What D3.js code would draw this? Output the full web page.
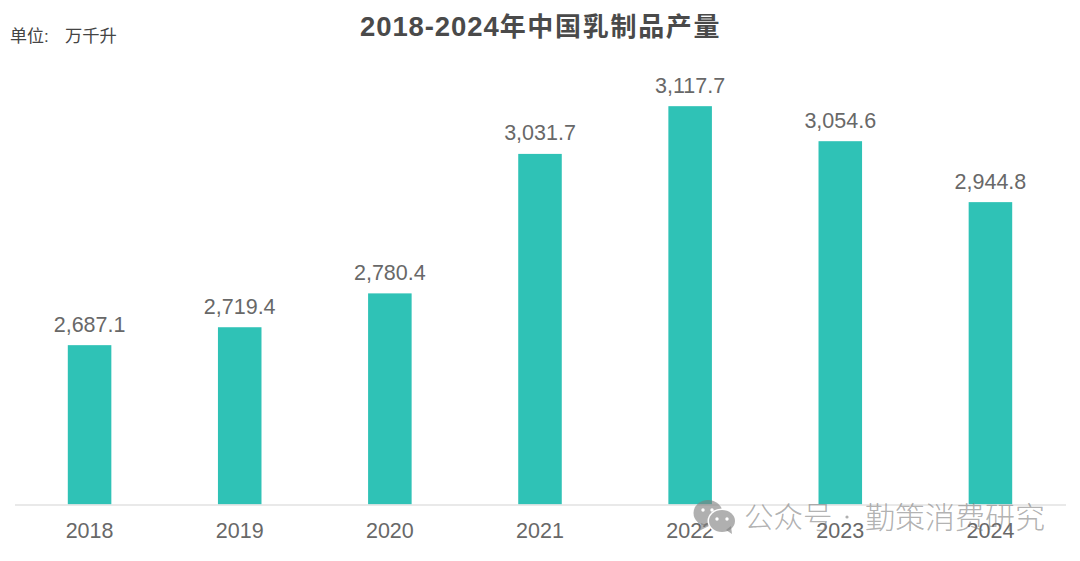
<!DOCTYPE html>
<html>
<head>
<meta charset="utf-8">
<script src="https://cdn.jsdelivr.net/npm/d3@7"></script>
<style>
html,body{margin:0;padding:0;background:#fff;overflow:hidden}
svg{display:block}
text{font-family:"Liberation Sans","Noto Sans CJK SC",sans-serif}
</style>
</head>
<body>
<svg id="chart" width="1080" height="561"></svg>
<script>
// Annual dairy output, in units of 10,000 kilolitres
const years = ["2018","2019","2020","2021","2022","2023","2024"];
const output = [2687.1,2719.4,2780.4,3031.7,3117.7,3054.6,2944.8];
const axisRange = [2400,3200];
const titleRange = "2018-2024";
const titleName = "年中国乳制品产量";
const unitLabel = "单位:";
const unitText = "万千升";
const markAccount = "公众号";
const markName = "勤策消费研究";

const svg = d3.select("#chart");
const x = d3.scaleBand().domain(years).range([14.5,1065.5]).paddingInner(0.71).paddingOuter(0.355);
const y = d3.scaleLinear().domain(axisRange).range([504.5,60.5]);
const fmt = d3.format(",.1f");
const textGrey = "#686868";

const title = svg.append("text").attr("x",360).attr("y",36).attr("font-weight",700).attr("fill","#4a4a4a");
title.append("tspan").attr("font-size",27.5).attr("letter-spacing",0.9).text(titleRange);
title.append("tspan").attr("font-size",26).attr("letter-spacing",1.7).text(titleName);
svg.append("text").attr("x",10).attr("y",41.5).attr("font-size",17).attr("fill","#444").text(unitLabel);
svg.append("text").attr("x",65).attr("y",41.5).attr("font-size",17.3).attr("fill","#444").text(unitText);

// Bars and value labels
svg.append("g").selectAll("rect").data(years).join("rect")
  .attr("x",d=>x(d)).attr("width",x.bandwidth())
  .attr("y",(d,i)=>y(output[i])).attr("height",(d,i)=>y(axisRange[0])-y(output[i]))
  .attr("fill","#2fc2b6");
svg.append("g").selectAll("text").data(years).join("text")
  .attr("x",d=>x(d)+x.bandwidth()/2).attr("y",(d,i)=>y(output[i])-13.5)
  .attr("text-anchor","middle").attr("font-size",21.5).attr("fill",textGrey)
  .text((d,i)=>fmt(output[i]));

// Category axis: baseline and year labels only
const axis = svg.append("g").attr("transform",`translate(0,${y(axisRange[0])})`)
  .call(d3.axisBottom(x).tickSize(0).tickPadding(18));
axis.select(".domain").attr("stroke","#e2e2e2").attr("stroke-width",1.5);
axis.selectAll("text").attr("font-size",21.5).attr("fill",textGrey)
  .style("font-family",'"Liberation Sans",sans-serif');

// Account mark laid over the lower right corner: back bubble, halo, front bubble
const markFill = "#808080", markAlpha = 0.62;
const icon = svg.append("g");
const bubble = (cx,cy,rx,ry)=>icon.append("ellipse").attr("cx",cx).attr("cy",cy).attr("rx",rx).attr("ry",ry)
  .attr("fill",markFill).attr("fill-opacity",markAlpha);
const tail = d=>icon.append("path").attr("d",d).attr("fill",markFill).attr("fill-opacity",markAlpha);
bubble(708,513,14.5,13);
tail("M701 523 L699 531 L709 526 Z");
icon.append("ellipse").attr("cx",722).attr("cy",521).attr("rx",14.5).attr("ry",12.5).attr("fill","#fff");
bubble(722,521,13,11);
tail("M726 530 L732 534 L731 526 Z");
[[703,510],[712,510],[717,519],[727,519]].forEach(p=>{
  icon.append("circle").attr("cx",p[0]).attr("cy",p[1]).attr("r",1.7).attr("fill","#fff");
});
const markText = svg.append("g").attr("fill",markFill).attr("fill-opacity",markAlpha).attr("font-weight",300);
markText.append("text").attr("x",744).attr("y",528).attr("font-size",29.5).style("font-family","Noto Sans CJK SC").text(markAccount);
markText.append("circle").attr("cx",847).attr("cy",517).attr("r",1.6);
markText.append("text").attr("x",865).attr("y",528).attr("font-size",30).style("font-family","Noto Sans CJK SC").text(markName);
</script>
</body>
</html>
